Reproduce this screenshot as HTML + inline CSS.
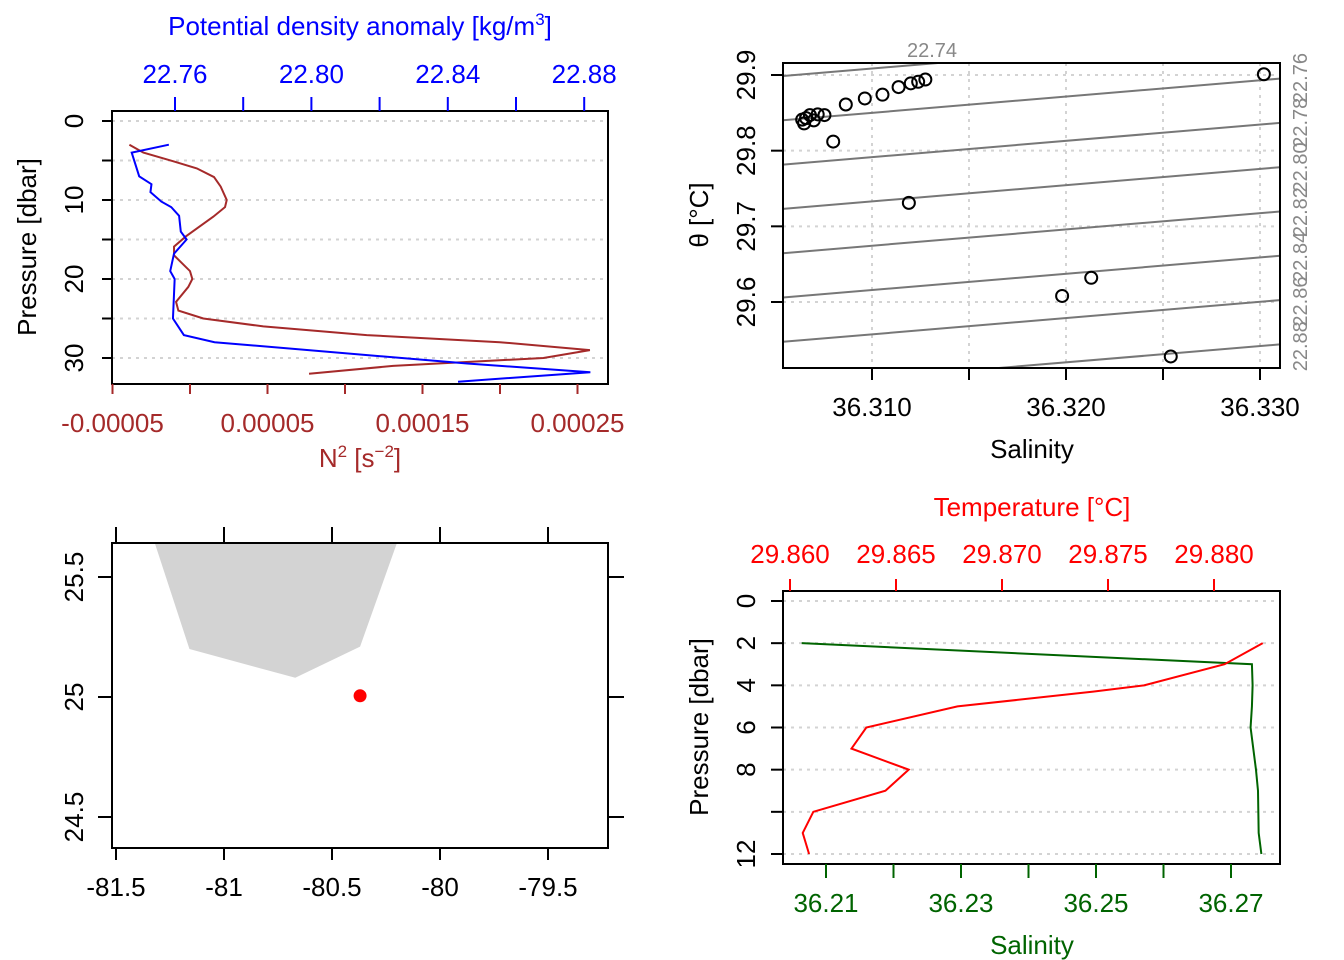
<!DOCTYPE html>
<html><head><meta charset="utf-8"><style>
body{margin:0;background:#fff}
svg{display:block;font-family:"Liberation Sans",sans-serif}
</style></head><body>
<svg id="s" width="1344" height="960" xmlns="http://www.w3.org/2000/svg"></svg>
<script>
// ---- Panel 1: density & N2 profile ----
const p1Pressure=[3,4,7,8,9,10.2,10.9,12,14,15,16.8,19,20,25,27.1,28,30.7,31.8,33];
const p1Density=[22.7582,22.7473,22.7495,22.7531,22.7528,22.7560,22.7589,22.7612,22.7617,22.7634,22.7597,22.7586,22.7599,22.7594,22.7626,22.7716,22.8457,22.8818,22.8430];
const n2Pressure=[3,4,5.1,6,7.1,8.3,10,10.9,12.1,14.6,15.9,17,19,20,21,22.9,24,25,26,27.1,28,29,30,31,32];
const n2Values=[-0.0000391,-0.0000301,-0.0000107,0.0000044,0.0000155,0.0000198,0.0000237,0.0000226,0.0000151,-0.0000026,-0.0000103,-0.0000103,0.0000000,0.0000015,-0.0000011,-0.0000090,-0.0000075,0.0000086,0.0000473,0.0001140,0.0001999,0.0002580,0.0002280,0.0001310,0.0000768];
const p1Nticks=[-0.00005,0,0.00005,0.0001,0.00015,0.0002,0.00025];
const p1Nlabels=["-0.00005","","0.00005","","0.00015","","0.00025"];
const p1Dticks=[22.76,22.77,22.78,22.79,22.80,22.81,22.82];
const p1Dlabels=["22.76","","22.80","","22.84","","22.88"];
const p1Pticks=[0,5,10,15,20,25,30];
const p1Plabels=["0","","10","","20","","30"];
// ---- Panel 2: TS diagram ----
const tsSalinity=[36.3302,36.31275,36.31238,36.3120,36.31137,36.31054,36.30963,36.30865,36.30755,36.3072,36.3068,36.3066,36.3065,36.3064,36.3070,36.3080,36.3119,36.3213,36.3198,36.3254];
const tsTheta=[29.901,29.894,29.891,29.889,29.884,29.874,29.869,29.861,29.847,29.848,29.847,29.843,29.836,29.841,29.840,29.812,29.731,29.632,29.608,29.528];
const tsSticks=[36.310,36.315,36.320,36.325,36.330];
const tsSlabels=["36.310","","36.320","","36.330"];
const tsTticks=[29.6,29.7,29.8,29.9];
const isoLabels=["22.74","22.76","22.78","22.80","22.82","22.84","22.86","22.88"];
// ---- Panel 3: map ----
const mapLonTicks=[-81.5,-81,-80.5,-80,-79.5];
const mapLatTicks=[24.5,25,25.5];
const coastLon=[-81.32,-81.16,-80.67,-80.37,-80.2];
const coastLat=[25.64,25.20,25.08,25.21,25.64];
const stationLon=[-80.37];
const stationLat=[25.005];
// ---- Panel 4: T & S profile ----
const tPressure=[2,3,4,4.3,5,6,7,8,9,10,11,12];
const tValues=[29.8823,29.8805,29.8767,29.8743,29.8679,29.8636,29.8629,29.8656,29.8645,29.8611,29.8606,29.8609];
const sPressure=[2,3,4,5,6,8,9,11,12];
const sValues=[36.2064,36.2731,36.2732,36.2731,36.2729,36.2737,36.2740,36.2741,36.2745];
const p4Tticks=[29.860,29.865,29.870,29.875,29.880];
const p4Sticks=[36.21,36.22,36.23,36.24,36.25,36.26,36.27];
const p4Slabels=["36.21","","36.23","","36.25","","36.27"];
const p4Pticks=[0,2,4,6,8,10,12];
const p4Plabels=["0","2","4","6","8","","12"];

const svg=document.getElementById('s');
const NS="http://www.w3.org/2000/svg";
const FS=26;
function el(tag,attrs,parent){const e=document.createElementNS(NS,tag);for(const k in attrs)e.setAttribute(k,attrs[k]);(parent||svg).appendChild(e);return e;}
function txt(x,y,s,o,parent){o=o||{};const t=el('text',{x:x,y:y,'font-size':o.fs||FS,fill:o.fill||'#000','text-anchor':o.anchor||'middle'},parent);if(o.rot)t.setAttribute('transform','rotate(-90 '+x+' '+y+')');t.innerHTML=s;return t;}
function lin(d0,d1,r0,r1){return v=>r0+(v-d0)/(d1-d0)*(r1-r0);}
function grp(name){const g=el('g',{});return g;}

// ===== Panel 1 =====
{
const g=grp('density-n2-panel');
const X=[112,608],Y=[111,384];
const py=lin(0,30,121,358), nx=lin(0,0.00005,190,267.5), dx=lin(22.76,22.78,175,243.2);
p1Pticks.forEach(p=>el('line',{x1:X[0],x2:X[1],y1:py(p),y2:py(p),stroke:'#d3d3d3','stroke-width':2,'stroke-dasharray':'3 5'},g));
let pts=n2Values.map((v,i)=>nx(v)+','+py(n2Pressure[i])).join(' ');
const l1=el('polyline',{points:pts,fill:'none',stroke:'#A52A2A','stroke-width':2},g);


pts=p1Density.map((v,i)=>dx(v)+','+py(p1Pressure[i])).join(' ');
const l2=el('polyline',{points:pts,fill:'none',stroke:'#0000ff','stroke-width':2},g);


el('rect',{x:X[0],y:Y[0],width:X[1]-X[0],height:Y[1]-Y[0],fill:'none',stroke:'#000','stroke-width':2},g);
p1Pticks.forEach((p,i)=>{el('line',{x1:X[0]-10,x2:X[0],y1:py(p),y2:py(p),stroke:'#000','stroke-width':2},g);if(p1Plabels[i])txt(83,py(p),p1Plabels[i],{rot:1},g);});
p1Nticks.forEach((v,i)=>{el('line',{x1:nx(v),x2:nx(v),y1:Y[1],y2:Y[1]+10,stroke:'#A52A2A','stroke-width':2},g);if(p1Nlabels[i])txt(nx(v),432,p1Nlabels[i],{fill:'#A52A2A'},g);});
p1Dticks.forEach((v,i)=>{const x=dx(22.76+(v-22.76)*2);el('line',{x1:x,x2:x,y1:Y[0]-14,y2:Y[0],stroke:'#0000ff','stroke-width':2},g);if(p1Dlabels[i])txt(x,83,p1Dlabels[i],{fill:'#0000ff'},g);});
txt(360,35,'Potential density anomaly [kg/m<tspan font-size="17" dy="-10">3</tspan><tspan dy="10">]</tspan>',{fill:'#0000ff'},g);
txt(360,467,'N<tspan font-size="17" dy="-10">2</tspan><tspan dy="10"> [s</tspan><tspan font-size="17" dy="-10">−2</tspan><tspan dy="10">]</tspan>',{fill:'#A52A2A'},g);
txt(36,247,'Pressure [dbar]',{rot:1},g);
}

// ===== Panel 2 =====
{
const g=grp('ts-diagram-panel');
const X=[783,1280],Y=[63,368];
const sx=lin(36.31,36.33,872,1260), ty=lin(29.6,29.9,302,75);
tsSticks.forEach(v=>el('line',{x1:sx(v),x2:sx(v),y1:Y[0],y2:Y[1],stroke:'#d3d3d3','stroke-width':2,'stroke-dasharray':'3 5'},g));
tsTticks.forEach(v=>el('line',{x1:X[0],x2:X[1],y1:ty(v),y2:ty(v),stroke:'#d3d3d3','stroke-width':2,'stroke-dasharray':'3 5'},g));
const cp=el('clipPath',{id:'tsclip'},g);el('rect',{x:X[0],y:Y[0],width:X[1]-X[0],height:Y[1]-Y[0]},cp);
const ig=el('g',{'clip-path':'url(#tsclip)'},g);
for(let k=0;k<9;k++){const yl=76+44.3*(k)-0,yr=yl-41.7;el('line',{x1:X[0],y1:yl,x2:X[1],y2:yr,stroke:'#777','stroke-width':2},ig);}
tsSalinity.forEach((s,i)=>{const c=el('circle',{cx:sx(s),cy:ty(tsTheta[i]),r:6,fill:'none',stroke:'#000','stroke-width':2},g);

});
el('rect',{x:X[0],y:Y[0],width:X[1]-X[0],height:Y[1]-Y[0],fill:'none',stroke:'#000','stroke-width':2},g);
tsSticks.forEach((v,i)=>{el('line',{x1:sx(v),x2:sx(v),y1:Y[1],y2:Y[1]+12,stroke:'#000','stroke-width':2},g);if(tsSlabels[i])txt(sx(v),416,tsSlabels[i],{},g);});
tsTticks.forEach(v=>{el('line',{x1:X[0]-12,x2:X[0],y1:ty(v),y2:ty(v),stroke:'#000','stroke-width':2},g);txt(755,ty(v),v.toFixed(1),{rot:1},g);});
txt(932,57,isoLabels[0],{fill:'#888',fs:20},g);
for(let k=1;k<isoLabels.length;k++){txt(1307,53+(k-1)*44.7,isoLabels[k],{fill:'#888',fs:20,rot:1,anchor:'end'},g);}
txt(1032,458,'Salinity',{},g);
txt(708,215,'θ [°C]',{rot:1},g);
}

// ===== Panel 3 =====
{
const g=grp('station-map-panel');
const X=[112,608],Y=[543,848];
const lx=lin(-81.5,-81,116,224), ly=lin(25,25.5,697,577);
const cp=el('clipPath',{id:'mapclip'},g);el('rect',{x:X[0],y:Y[0],width:X[1]-X[0],height:Y[1]-Y[0]},cp);
const poly=el('polygon',{points:coastLon.map((v,i)=>lx(v)+','+ly(coastLat[i])).join(' '),fill:'#d3d3d3','clip-path':'url(#mapclip)'},g);


stationLon.forEach((v,i)=>{const c=el('circle',{cx:lx(v),cy:ly(stationLat[i]),r:6.5,fill:'#ff0000'},g);

});
el('rect',{x:X[0],y:Y[0],width:X[1]-X[0],height:Y[1]-Y[0],fill:'none',stroke:'#000','stroke-width':2},g);
mapLonTicks.forEach(v=>{el('line',{x1:lx(v),x2:lx(v),y1:Y[1],y2:Y[1]+12,stroke:'#000','stroke-width':2},g);el('line',{x1:lx(v),x2:lx(v),y1:Y[0]-16,y2:Y[0],stroke:'#000','stroke-width':2},g);txt(lx(v),896,String(v),{},g);});
mapLatTicks.forEach(v=>{el('line',{x1:X[0]-14,x2:X[0],y1:ly(v),y2:ly(v),stroke:'#000','stroke-width':2},g);el('line',{x1:X[1],x2:X[1]+16,y1:ly(v),y2:ly(v),stroke:'#000','stroke-width':2},g);txt(83,ly(v),String(v),{rot:1},g);});
}

// ===== Panel 4 =====
{
const g=grp('temp-salinity-profile-panel');
const X=[783,1280],Y=[591,864];
const py=lin(0,12,601,854), tx=lin(29.86,29.88,790,1214), sx=lin(36.21,36.27,826,1231);
p4Pticks.forEach(p=>el('line',{x1:X[0],x2:X[1],y1:py(p),y2:py(p),stroke:'#d3d3d3','stroke-width':2,'stroke-dasharray':'3 5'},g));
let l=el('polyline',{points:sValues.map((v,i)=>sx(v)+','+py(sPressure[i])).join(' '),fill:'none',stroke:'#006400','stroke-width':2},g);


l=el('polyline',{points:tValues.map((v,i)=>tx(v)+','+py(tPressure[i])).join(' '),fill:'none',stroke:'#ff0000','stroke-width':2},g);


el('rect',{x:X[0],y:Y[0],width:X[1]-X[0],height:Y[1]-Y[0],fill:'none',stroke:'#000','stroke-width':2},g);
p4Pticks.forEach((p,i)=>{el('line',{x1:X[0]-12,x2:X[0],y1:py(p),y2:py(p),stroke:'#000','stroke-width':2},g);if(p4Plabels[i])txt(755,py(p),p4Plabels[i],{rot:1},g);});
p4Tticks.forEach(v=>{el('line',{x1:tx(v),x2:tx(v),y1:Y[0]-12,y2:Y[0],stroke:'#ff0000','stroke-width':2},g);txt(tx(v),563,v.toFixed(3),{fill:'#ff0000'},g);});
p4Sticks.forEach((v,i)=>{el('line',{x1:sx(v),x2:sx(v),y1:Y[1],y2:Y[1]+14,stroke:'#006400','stroke-width':2},g);if(p4Slabels[i])txt(sx(v),912,p4Slabels[i],{fill:'#006400'},g);});
txt(1032,516,'Temperature [°C]',{fill:'#ff0000'},g);
txt(1032,954,'Salinity',{fill:'#006400'},g);
txt(708,727,'Pressure [dbar]',{rot:1},g);
}
</script>
</body></html>
